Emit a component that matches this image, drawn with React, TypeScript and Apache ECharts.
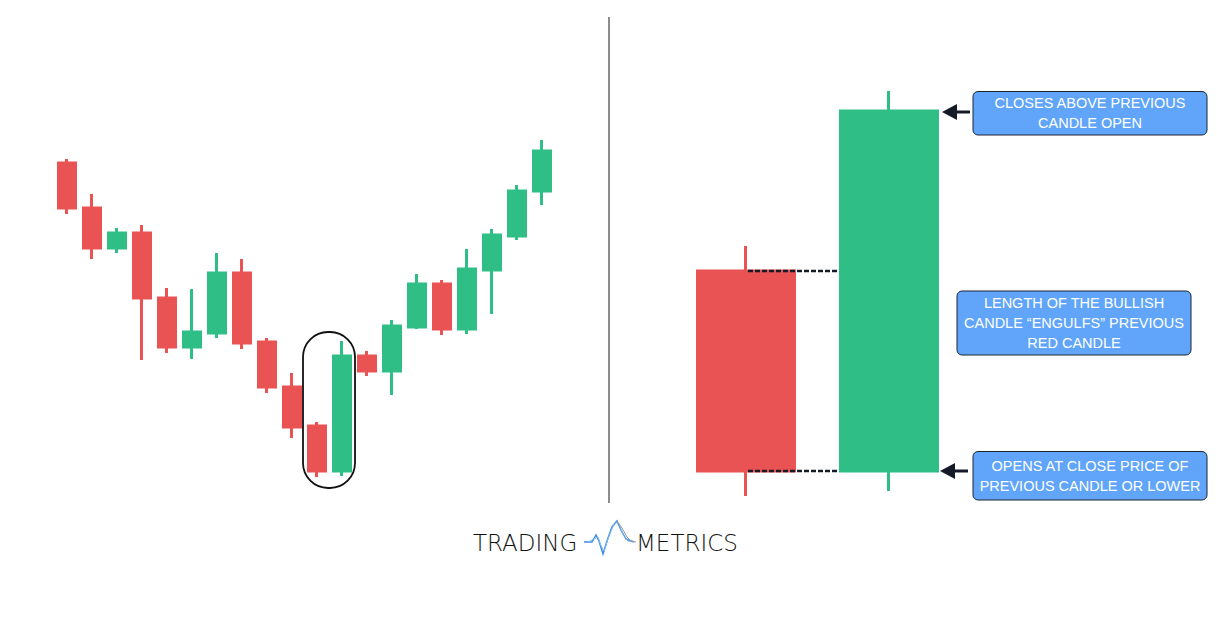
import React, { useEffect, useRef } from "react";
import * as echarts from "echarts";

// Left chart: 20 candles [open, close, low, high]
const leftCategories = Array.from({ length: 20 }, (_, i) => `C${i + 1}`);
const leftOpen = [337, 292, 252, 267, 202, 153, 167, 227, 158, 113, 74, 29, 144, 129, 173, 216, 171, 230, 264, 309];
const leftClose = [292, 252, 267, 202, 153, 168, 227, 157, 113, 73, 29, 144, 129, 174, 216, 171, 231, 265, 309, 349];
const leftLow = [286, 241, 247, 140, 147, 141, 162, 151, 107, 62, 23, 24, 124, 105, 171, 165, 166, 186, 260, 295];
const leftHigh = [341, 306, 272, 275, 212, 211, 247, 241, 162, 127, 78, 159, 149, 180, 226, 220, 251, 271, 315, 360];

// Right illustration: previous red candle and bullish engulfing candle
const rightCategories = ["Previous", "Engulfing"];
const rightOpen = [229, 29];
const rightClose = [29, 389];
const rightLow = [4, 9];
const rightHigh = [254, 409];

const annotationTexts = [
  "CLOSES ABOVE PREVIOUS\nCANDLE OPEN",
  "LENGTH OF THE BULLISH\nCANDLE \u201CENGULFS\u201D PREVIOUS\nRED CANDLE",
  "OPENS AT CLOSE PRICE OF\nPREVIOUS CANDLE OR LOWER",
];

const RED = "#EA5353";
const GREEN = "#2EBE86";

export default function App() {
  const ref = useRef<HTMLDivElement>(null);

  useEffect(() => {
    if (!ref.current) return;
    const chart = echarts.init(ref.current, undefined, { renderer: "svg" });
    const leftData = leftOpen.map((o, i) => [o, leftClose[i], leftLow[i], leftHigh[i]]);
    const rightData = rightOpen.map((o, i) => [o, rightClose[i], rightLow[i], rightHigh[i]]);

    const option: any = {
      animation: false,
      backgroundColor: "#ffffff",
      grid: [
        { left: 54.5, top: 0, width: 500, height: 500 },
        { left: 674.5, top: 0, width: 286, height: 500 },
      ],
      xAxis: [
        { type: "category", gridIndex: 0, data: leftCategories, show: false },
        { type: "category", gridIndex: 1, data: rightCategories, show: false },
      ],
      yAxis: [
        { type: "value", gridIndex: 0, min: 0, max: 500, show: false },
        { type: "value", gridIndex: 1, min: 0, max: 500, show: false },
      ],
      series: [
        {
          type: "candlestick",
          xAxisIndex: 0,
          yAxisIndex: 0,
          data: leftData,
          barWidth: 17,
          itemStyle: { color: GREEN, color0: RED, borderColor: GREEN, borderColor0: RED, borderWidth: 3 },
        },
        {
          type: "candlestick",
          xAxisIndex: 1,
          yAxisIndex: 1,
          data: rightData,
          barWidth: 97,
          itemStyle: { color: GREEN, color0: RED, borderColor: GREEN, borderColor0: RED, borderWidth: 3 },
        },
      ],
    };
    chart.setOption(option);

    const px = (g: number, x: number, y: number) =>
      chart.convertToPixel({ xAxisIndex: g, yAxisIndex: g }, [x, y]) as number[];

    // Dashed connector lines
    const redTop = px(1, 0, rightOpen[0]);
    const redBot = px(1, 0, rightClose[0]);
    const greenCenterX = px(1, 1, rightOpen[1])[0];
    const greenLeft = greenCenterX - 50;
    const greenRight = greenCenterX + 50;
    const greenTopY = px(1, 1, rightClose[1])[1];
    const greenBotY = px(1, 1, rightOpen[1])[1];

    // Highlight box around candles 11 & 12
    const c11 = px(0, 10, leftLow[10]);
    const c12 = px(0, 11, leftHigh[11]);
    const hlLeft = c11[0] - 14;
    const hlRight = c12[0] + 13;
    const hlTop = c12[1] - 9;
    const hlBottom = c11[1] + 11;

    const dark = "#141A28";
    const box = (x: number, y: number, w: number, h: number, text: string) => ({
      type: "group",
      children: [
        {
          type: "rect",
          shape: { x, y, width: w, height: h, r: 5 },
          style: { fill: "#60A5FA", stroke: "#1E2533", lineWidth: 1 },
        },
        {
          type: "text",
          x: x + w / 2,
          y: y + h / 2,
          style: {
            text,
            fill: "#ffffff",
            font: '14.5px "Liberation Sans", Arial, sans-serif',
            align: "center",
            verticalAlign: "middle",
            lineHeight: 20,
          },
        },
      ],
    });
    const arrow = (tipX: number, y: number) => ({
      type: "group",
      children: [
        { type: "line", shape: { x1: tipX + 12, y1: y, x2: tipX + 28, y2: y }, style: { stroke: dark, lineWidth: 3 } },
        {
          type: "polygon",
          shape: { points: [[tipX, y], [tipX + 15, y - 8], [tipX + 15, y + 8]] },
          style: { fill: dark },
        },
      ],
    });

    const waveBlue = "#3A8EE6";
    const logoFont = '200 23px "DejaVu Sans", "Open Sans", sans-serif';
    const graphic: any[] = [
      // divider
      { type: "line", shape: { x1: 609, y1: 17, x2: 609, y2: 503 }, style: { stroke: "#8C8C8C", lineWidth: 2 } },
      // highlight rounded rect
      {
        type: "rect",
        shape: { x: hlLeft, y: hlTop, width: hlRight - hlLeft, height: hlBottom - hlTop, r: 25 },
        style: { fill: "none", stroke: "#111111", lineWidth: 1.8 },
      },
      // dashed lines
      {
        type: "line",
        shape: { x1: redTop[0] + 2, y1: redTop[1], x2: greenLeft, y2: redTop[1] },
        style: { stroke: dark, lineWidth: 2.5, lineDash: [5, 2] },
        z: 10,
      },
      {
        type: "line",
        shape: { x1: redBot[0] + 2, y1: redBot[1], x2: greenLeft, y2: redBot[1] },
        style: { stroke: dark, lineWidth: 2.5, lineDash: [5, 2] },
        z: 10,
      },
      arrow(greenRight + 3, greenTopY + 1),
      arrow(greenRight + 1, greenBotY),
      box(973, 91.5, 234, 43.5, annotationTexts[0]),
      box(957, 291, 234, 64, annotationTexts[1]),
      box(973, 451.5, 234, 48.5, annotationTexts[2]),
      // logo
      {
        type: "text",
        x: 473,
        y: 543,
        style: { text: "TRADING", fill: "#111111", font: logoFont, align: "left", verticalAlign: "middle" },
      },
      {
        type: "text",
        x: 636,
        y: 543,
        style: { text: "METRICS", fill: "#111111", font: logoFont, align: "left", verticalAlign: "middle" },
      },
      {
        type: "polyline",
        shape: { points: [[584, 542], [592, 542], [596, 535], [599, 541], [603, 554], [607, 541], [612, 527], [617, 521], [621, 530], [626, 539], [634, 542]] },
        style: { stroke: waveBlue, lineWidth: 1.5, fill: "none" },
      },
      {
        type: "polyline",
        shape: { points: [[588, 542], [594, 539], [598, 537], [601, 546], [604, 551], [609, 536], [614, 524], [618, 522], [623, 534], [628, 541], [634, 542]] },
        style: { stroke: "#7FB6EE", lineWidth: 1, fill: "none" },
      },
      {
        type: "polyline",
        shape: { points: [[617, 521], [622, 528], [627, 537], [631, 541], [636, 542]] },
        style: { stroke: "#9A9A9A", lineWidth: 1, fill: "none" },
      },
    ];
    chart.setOption({ graphic });

    return () => chart.dispose();
  }, []);

  return (
    <div
      ref={ref}
      style={{ position: "fixed", left: 0, top: 0, width: 1217, height: 619, background: "#ffffff" }}
    />
  );
}
